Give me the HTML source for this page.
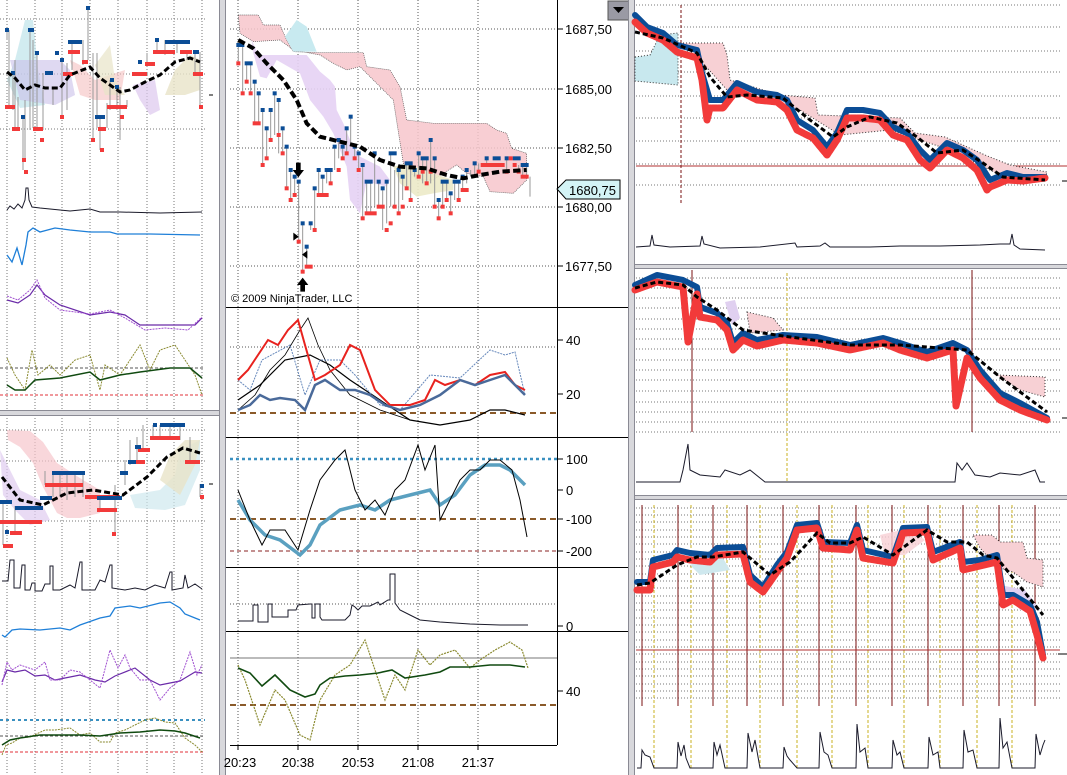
<!DOCTYPE html>
<html><head><meta charset="utf-8"><style>
html,body{margin:0;padding:0;background:#fff;}
svg{display:block;font-family:"Liberation Sans",sans-serif;}
</style></head><body>
<svg width="1067" height="775" viewBox="0 0 1067 775" xmlns="http://www.w3.org/2000/svg">
<rect width="1067" height="775" fill="#fff"/>

<!-- ================= LEFT TOP ================= -->
<g stroke="#777" stroke-width="1" stroke-dasharray="1,2" fill="none">
<path d="M7 0V410M35 0V410M62 0V410M90 0V410M118 0V410M147 0V410M174 0V410M202 0V410"/>
<path d="M0 19H205M0 74H205M0 129H205"/>
<path d="M7 415V775M35 415V775M62 415V775M90 415V775M118 415V775M147 415V775M174 415V775M202 415V775"/>
<path d="M0 430H205M0 461H205M0 521H205"/>
</g>
<polygon points="15,60 25,20 33,20 38,70 45,105 20,108 7,80" fill="#bfe4ea" opacity="0.7"/>
<polygon points="10,60 60,60 70,70 75,95 55,105 20,100" fill="#c9c0ea" opacity="0.6"/>
<polygon points="70,60 80,65 95,80 125,70 120,100 95,100 80,95" fill="#f5c0c0" opacity="0.6"/>
<polygon points="95,65 110,45 115,80 125,95 105,95" fill="#e8e4c8" opacity="0.7"/>
<polygon points="175,70 190,55 200,60 200,90 185,95 165,95" fill="#e8e4c8" opacity="0.8"/>
<polygon points="133,85 155,80 160,110 150,115 140,100" fill="#ddc8ee" opacity="0.7"/>
<g stroke="#999" fill="none">
<path d="M7 30V40M9 30V105M13 73V110M15 60V127M18 97V130M23 117V170M25 100V160M30 30V130M33 40V128M37 53V128M43 73V130M53 87V105M62 60V115M67 63V110M72 40V70M83 40V65M88 8V60M93 53V140M97 53V128M100 117V150M107 103V128M110 80V110M117 87V110M120 87V140M127 100V107M133 73V75M147 53V63M157 40V52M165 40V55M177 40V53M187 50V60M195 50V75M200 52V107"/>
</g>
<g fill="#0b4d96">
<rect x="5" y="28" width="4" height="4"/><rect x="11" y="71" width="4" height="4"/><rect x="21" y="115" width="4" height="4"/><rect x="28" y="28" width="6" height="4"/><rect x="35" y="51" width="4" height="4"/><rect x="45" y="71" width="8" height="4"/><rect x="55" y="51" width="4" height="4"/><rect x="68" y="40" width="14" height="4"/><rect x="86" y="6" width="4" height="4"/><rect x="95" y="115" width="10" height="4"/><rect x="115" y="85" width="4" height="4"/><rect x="138" y="60" width="4" height="4"/><rect x="155" y="38" width="4" height="4"/><rect x="165" y="40" width="25" height="4"/><rect x="193" y="50" width="6" height="4"/><rect x="60" y="58" width="4" height="4"/><rect x="110" y="78" width="4" height="4"/>
</g>
<g fill="#f23a3a">
<rect x="5" y="105" width="10" height="4"/><rect x="12" y="127" width="8" height="4"/><rect x="22" y="158" width="4" height="4"/><rect x="24" y="170" width="4" height="4"/><rect x="33" y="127" width="10" height="4"/><rect x="40" y="138" width="4" height="4"/><rect x="60" y="115" width="4" height="4"/><rect x="68" y="50" width="12" height="4"/><rect x="63" y="72" width="10" height="4"/><rect x="82" y="60" width="6" height="4"/><rect x="98" y="127" width="8" height="4"/><rect x="107" y="105" width="20" height="4"/><rect x="120" y="115" width="4" height="4"/><rect x="132" y="72" width="15" height="4"/><rect x="145" y="62" width="10" height="4"/><rect x="153" y="50" width="22" height="4"/><rect x="180" y="50" width="12" height="4"/><rect x="193" y="72" width="10" height="4"/><rect x="199" y="105" width="4" height="4"/><rect x="91" y="138" width="4" height="4"/><rect x="100" y="148" width="4" height="4"/>
</g>
<polyline points="7,72 15,78 25,90 35,85 45,88 60,88 70,75 90,67 100,78 120,92 130,90 145,82 160,75 175,62 190,58 200,62" fill="none" stroke="#000" stroke-width="3" stroke-dasharray="6,3"/>
<path d="M209 95H213" stroke="#000"/>
<polyline points="7,210 10,206 14,209 18,204 22,208 25,200 26,188 28,188 29,200 32,207 40,208 50,209 70,211 90,209 100,212 120,212 160,213 202,212" fill="none" stroke="#1a1a2a" stroke-width="1"/>
<polyline points="7,255 12,262 17,248 22,265 26,245 28,232 33,228 40,232 55,228 70,230 90,232 110,232 117,234 150,234 200,235" fill="none" stroke="#1e7fd8" stroke-width="1.3"/>
<polyline points="7,300 18,303 30,295 37,285 45,295 60,305 90,315 110,312 125,315 140,325 170,325 195,325 202,318" fill="none" stroke="#6a2aa8" stroke-width="1.2"/>
<polyline points="7,296 18,300 30,290 37,280 45,298 60,310 90,314 110,310 125,318 145,330 165,328 188,330 202,317" fill="none" stroke="#a050d0" stroke-width="1" stroke-dasharray="2,1"/>
<path d="M0 368H205" stroke="#555" stroke-dasharray="3,2"/>
<path d="M0 395H205" stroke="#e0303a" stroke-dasharray="3,2"/>
<polyline points="7,358 15,375 25,390 32,350 38,375 50,365 60,375 75,360 90,355 100,390 105,365 120,375 140,345 150,370 160,350 175,345 185,360 195,375 202,395" fill="none" stroke="#8a8a30" stroke-width="1" stroke-dasharray="2,1"/>
<polyline points="7,385 15,390 25,390 35,380 60,378 90,372 100,380 120,375 140,372 170,368 190,368 202,378" fill="none" stroke="#104a10" stroke-width="1.5"/>

<!-- ================= LEFT BOTTOM ================= -->
<polygon points="7,430 30,431 43,442 57,463 83,480 100,490 100,513 80,518 67,518 57,513 43,487 33,463 20,447 8,440" fill="#f7c6cc" opacity="0.7"/>
<polygon points="0,450 10,470 20,490 40,500 50,520 30,525 15,510 3,495" fill="#e0ccf0" opacity="0.7"/>
<polygon points="130,495 160,490 175,475 180,450 200,440 200,470 185,505 165,510 135,508" fill="#cfe8ee" opacity="0.7"/>
<polygon points="160,480 170,455 185,440 200,440 195,465 180,495" fill="#e8e4c8" opacity="0.8"/>
<g stroke="#999" fill="none">
<path d="M3 500V545M15 506V535M45 471V485M53 471V497M60 471V497M67 471V500M75 471V497M83 471V497M100 496V512M115 485V535M125 460V485M130 440V465M137 437V460M143 425V450M153 425V440M160 425V440M170 425V440M180 425V440M190 437V462M200 484V497"/>
</g>
<g fill="#f23a3a">
<rect x="0" y="520" width="42" height="4"/><rect x="3" y="544" width="10" height="4"/><rect x="10" y="531" width="12" height="4"/><rect x="45" y="483" width="38" height="4"/><rect x="85" y="495" width="35" height="4"/><rect x="97" y="508" width="20" height="4"/><rect x="130" y="460" width="15" height="4"/><rect x="150" y="436" width="30" height="4"/><rect x="138" y="448" width="12" height="4"/><rect x="185" y="460" width="15" height="4"/><rect x="112" y="532" width="4" height="4"/><rect x="200" y="495" width="4" height="4"/>
</g>
<g fill="#0b4d96">
<rect x="0" y="500" width="12" height="4"/><rect x="15" y="506" width="28" height="4"/><rect x="40" y="496" width="12" height="4"/><rect x="52" y="471" width="33" height="4"/><rect x="97" y="496" width="25" height="4"/><rect x="120" y="471" width="8" height="4"/><rect x="128" y="460" width="8" height="4"/><rect x="135" y="445" width="6" height="4"/><rect x="153" y="423" width="4" height="4"/><rect x="160" y="423" width="25" height="4"/><rect x="200" y="484" width="4" height="4"/><rect x="5" y="530" width="4" height="4"/>
</g>
<polyline points="2,477 20,500 43,505 67,493 93,490 123,495 147,477 167,457 183,448 200,453" fill="none" stroke="#000" stroke-width="3" stroke-dasharray="6,3"/>
<path d="M209 484H213" stroke="#000"/>
<polyline points="2,581 8,581 10,560 14,560 14,588 20,588 22,565 25,565 25,590 30,590 32,583 35,583 35,591 42,591 45,584 50,584 50,566 53,566 53,590 60,590 70,585 75,588 80,562 82,562 82,590 95,590 100,580 105,582 110,565 112,565 112,588 125,590 135,588 145,590 155,585 165,588 170,572 172,572 172,590 183,588 185,575 188,588 195,584 202,589" fill="none" stroke="#1a1a2a"/>
<polyline points="2,635 5,637 12,630 20,629 40,630 60,628 70,630 80,625 100,618 110,616 115,608 130,606 140,608 160,603 170,602 180,608 185,614 200,620" fill="none" stroke="#1e7fd8" stroke-width="1.3"/>
<polyline points="2,682 7,670 15,672 25,670 35,676 45,675 55,680 65,678 80,675 95,680 105,682 115,676 130,670 135,668 150,680 160,685 170,683 180,681 185,678 195,672 202,673" fill="none" stroke="#6a2aa8" stroke-width="1.2"/>
<polyline points="2,685 7,662 12,670 20,665 35,670 45,662 50,680 60,680 70,670 80,672 90,680 100,688 110,650 118,668 125,655 130,668 140,680 150,680 160,700 170,688 180,680 190,652 197,675 202,665" fill="none" stroke="#a050d0" stroke-width="1" stroke-dasharray="2,1"/>
<path d="M0 720H205" stroke="#3a90c0" stroke-width="2" stroke-dasharray="3,3"/>
<path d="M0 736H205" stroke="#555" stroke-dasharray="3,2"/>
<path d="M0 752H205" stroke="#e0303a" stroke-dasharray="3,2"/>
<polyline points="2,755 6,745 12,743 20,738 30,737 45,730 55,730 70,728 80,735 90,733 100,742 110,742 115,733 125,730 135,725 145,720 155,718 165,722 175,723 185,738 195,745 202,752" fill="none" stroke="#8a8a30" stroke-width="1" stroke-dasharray="2,1"/>
<polyline points="2,745 10,740 20,738 40,735 60,735 80,735 100,736 120,733 140,732 160,730 175,731 185,733 200,738" fill="none" stroke="#104a10" stroke-width="1.5"/>

<rect x="219" y="0" width="7" height="775" fill="#d8d8dc"/>
<path d="M219.5 0V775M225.5 0V775" stroke="#8a8a94"/>
<rect x="0" y="410" width="219" height="6" fill="#d8d8dc"/>
<path d="M0 410.5H219M0 415.5H219" stroke="#8a8a94"/>

<!-- ================= MIDDLE ================= -->
<g stroke="#555" stroke-dasharray="1,2" fill="none">
<path d="M238 0V745M298 0V745M358 0V745M418 0V745M478 0V745"/>
<path d="M230 29H557M230 89H557M230 148H557M230 207H557M230 266H557"/>
<path d="M230 347H557M230 604H557"/>
</g>
<g transform="translate(200,0) scale(0.33333)">
<polygon points="115,45 175,45 190,75 240,75 260,120 280,155 355,158 490,158 500,200 570,210 600,260 620,360 700,370 860,370 890,390 920,400 935,445 980,460 980,540 940,580 870,575 850,530 800,520 770,495 730,520 700,540 650,540 610,490 580,300 500,220 480,200 440,210 400,190 360,165 280,150 240,120 160,125 120,100" fill="#f7c6cc" opacity="0.85" stroke="#333" stroke-width="2" stroke-dasharray="3,3"/>
<polygon points="255,110 290,60 320,80 350,155 280,155" fill="#c8eaf0"/>
<polygon points="155,120 175,165 320,165 360,215 390,240 405,260 410,330 430,370 450,420 480,470 540,500 570,540 560,560 500,545 480,640 450,600 440,500 420,450 400,400 370,350 330,300 300,220 230,180 200,235 180,230 160,160" fill="#e6d2f4" opacity="0.9"/>
<polygon points="580,500 620,490 700,520 760,540 760,570 700,580 650,590 600,550" fill="#eceac8" opacity="0.9"/>
<g stroke="#999" stroke-width="3" fill="none">
<path d="M115 135V190M128 135V280M140 190V245M152 190V280M164 245V370M176 280V370M188 330V495M200 385V475M212 330V420M224 280V405M236 300V460M248 385V460M260 440V565M272 510V600M284 530V585M296 545V725M308 670V815M320 740V800M332 670V690M344 565V690M356 510V585M368 530V585M380 510V550M392 510V550M404 440V510M416 420V475M428 440V475M440 385V460M452 350V440M464 440V475M476 460V510M488 495V655M500 545V640M512 545V640M524 460V620M536 545V620M548 565V690M560 545V670M572 460V620M584 510V620M596 510V640M608 530V600M620 490V565M632 490V600M644 510V530M656 460V530M668 475V550M680 475V550M692 420V550M704 475V620M716 600V655M728 545V620M740 545V600M752 580V640M764 545V600M776 545V600M788 530V570M800 510V550M812 510V530M824 490V530M836 490V510M860 475V495M920 475V510M956 495V510M968 495V530M980 495V530M990 530V590"/>
</g>
<g fill="#0b4d96">
<rect x="109" y="129" width="24" height="12"/><rect x="134" y="184" width="24" height="12"/><rect x="158" y="239" width="12" height="12"/><rect x="170" y="274" width="12" height="12"/><rect x="182" y="324" width="12" height="12"/><rect x="194" y="379" width="12" height="12"/><rect x="206" y="324" width="12" height="12"/><rect x="218" y="274" width="12" height="12"/><rect x="230" y="294" width="12" height="12"/><rect x="242" y="379" width="12" height="12"/><rect x="254" y="434" width="12" height="12"/><rect x="266" y="504" width="12" height="12"/><rect x="278" y="524" width="12" height="12"/><rect x="290" y="539" width="12" height="12"/><rect x="302" y="664" width="12" height="12"/><rect x="314" y="734" width="12" height="12"/><rect x="326" y="664" width="12" height="12"/><rect x="338" y="559" width="12" height="12"/><rect x="350" y="504" width="12" height="12"/><rect x="362" y="524" width="12" height="12"/><rect x="374" y="504" width="24" height="12"/><rect x="398" y="434" width="12" height="12"/><rect x="410" y="414" width="12" height="12"/><rect x="422" y="434" width="12" height="12"/><rect x="434" y="379" width="12" height="12"/><rect x="446" y="344" width="12" height="12"/><rect x="458" y="434" width="12" height="12"/><rect x="470" y="454" width="12" height="12"/><rect x="482" y="489" width="12" height="12"/><rect x="494" y="539" width="24" height="12"/><rect x="518" y="454" width="12" height="12"/><rect x="530" y="539" width="12" height="12"/><rect x="542" y="559" width="12" height="12"/><rect x="554" y="539" width="12" height="12"/><rect x="566" y="454" width="24" height="12"/><rect x="590" y="504" width="12" height="12"/><rect x="602" y="524" width="12" height="12"/><rect x="614" y="484" width="24" height="12"/><rect x="638" y="504" width="12" height="12"/><rect x="650" y="454" width="12" height="12"/><rect x="662" y="469" width="24" height="12"/><rect x="686" y="414" width="12" height="12"/><rect x="698" y="469" width="12" height="12"/><rect x="710" y="594" width="12" height="12"/><rect x="722" y="539" width="24" height="12"/><rect x="746" y="574" width="12" height="12"/><rect x="758" y="539" width="24" height="12"/><rect x="782" y="524" width="12" height="12"/><rect x="794" y="504" width="12" height="12"/><rect x="818" y="484" width="12" height="12"/><rect x="854" y="469" width="12" height="12"/><rect x="878" y="469" width="24" height="12"/><rect x="914" y="469" width="12" height="12"/><rect x="938" y="469" width="24" height="12"/><rect x="962" y="489" width="24" height="12"/>
</g>
<g fill="#f23a3a">
<rect x="109" y="184" width="12" height="12"/><rect x="122" y="274" width="12" height="12"/><rect x="134" y="239" width="12" height="12"/><rect x="146" y="274" width="12" height="12"/><rect x="158" y="364" width="24" height="12"/><rect x="182" y="489" width="12" height="12"/><rect x="194" y="469" width="12" height="12"/><rect x="206" y="414" width="12" height="12"/><rect x="230" y="399" width="12" height="12"/><rect x="242" y="454" width="12" height="12"/><rect x="254" y="559" width="12" height="12"/><rect x="266" y="594" width="12" height="12"/><rect x="278" y="579" width="12" height="12"/><rect x="290" y="719" width="12" height="12"/><rect x="302" y="809" width="12" height="12"/><rect x="314" y="794" width="24" height="12"/><rect x="338" y="684" width="12" height="12"/><rect x="350" y="579" width="36" height="12"/><rect x="386" y="544" width="12" height="12"/><rect x="410" y="504" width="12" height="12"/><rect x="422" y="469" width="12" height="12"/><rect x="434" y="454" width="12" height="12"/><rect x="458" y="469" width="12" height="12"/><rect x="470" y="504" width="12" height="12"/><rect x="482" y="649" width="12" height="12"/><rect x="494" y="634" width="36" height="12"/><rect x="530" y="614" width="24" height="12"/><rect x="554" y="684" width="12" height="12"/><rect x="566" y="664" width="12" height="12"/><rect x="578" y="614" width="12" height="12"/><rect x="590" y="634" width="12" height="12"/><rect x="602" y="614" width="12" height="12"/><rect x="614" y="559" width="12" height="12"/><rect x="626" y="594" width="12" height="12"/><rect x="650" y="524" width="12" height="12"/><rect x="662" y="509" width="12" height="12"/><rect x="674" y="544" width="12" height="12"/><rect x="686" y="509" width="12" height="12"/><rect x="698" y="614" width="12" height="12"/><rect x="710" y="649" width="12" height="12"/><rect x="722" y="614" width="12" height="12"/><rect x="734" y="594" width="12" height="12"/><rect x="746" y="634" width="12" height="12"/><rect x="770" y="594" width="12" height="12"/><rect x="782" y="564" width="24" height="12"/><rect x="830" y="509" width="12" height="12"/><rect x="842" y="489" width="72" height="12"/><rect x="914" y="509" width="12" height="12"/><rect x="926" y="469" width="12" height="12"/><rect x="938" y="489" width="12" height="12"/><rect x="950" y="509" width="12" height="12"/><rect x="962" y="524" width="24" height="12"/>
</g>
<polyline points="115,120 160,145 200,190 250,240 290,300 320,370 360,410 420,425 480,440 540,480 600,500 680,505 740,525 790,535 840,525 900,515 980,510" fill="none" stroke="#000" stroke-width="12" stroke-dasharray="22,10"/>
<path d="M288 488H302V510H312L295 532L278 510H288Z" fill="#000"/>
<path d="M301 875H315V855H325L308 833L291 855H301Z" fill="#000"/>
<path d="M280 698L296 710L280 722Z M322 752L306 764L322 776Z" fill="#000"/>
</g>
<text x="231" y="302" font-size="11" fill="#000">© 2009 NinjaTrader, LLC</text>

<path d="M557.5 0V745" stroke="#000"/>
<path d="M226 307.5H628M226 437.5H628M226 567.5H628M226 631.5H628" stroke="#000"/>
<path d="M230 745.5H557" stroke="#000"/>
<g stroke="#000"><path d="M557 29H563M557 89H563M557 148H563M557 207H563M557 266H563M557 340H563M557 394H563M557 459H563M557 490H563M557 519H563M557 551H563M557 626H563M557 691H563"/></g>
<g font-size="13" fill="#000">
<text x="565" y="34">1687,50</text><text x="565" y="94">1685,00</text><text x="565" y="153">1682,50</text><text x="565" y="212">1680,00</text><text x="565" y="271">1677,50</text>
<text x="566" y="345">40</text><text x="566" y="399">20</text>
<text x="566" y="464">100</text><text x="566" y="495">0</text><text x="566" y="524">-100</text><text x="566" y="556">-200</text>
<text x="566" y="631">0</text><text x="566" y="696">40</text>
</g>
<path d="M557 189L566 180H620V199H566Z" fill="#d4f4f6" stroke="#000"/>
<text x="569" y="195" font-size="13">1680,75</text>
<rect x="608" y="1" width="21" height="19" fill="#9a9aa4" stroke="#555"/>
<path d="M613 7H624L618.5 13Z" fill="#000"/>

<path d="M230 413H557" stroke="#8a5a2a" stroke-width="2" stroke-dasharray="6,4"/>
<polyline points="238,410 255,395 270,370 285,355 300,330 308,318 318,345 330,370 350,395 380,410 410,420" fill="none" stroke="#000" stroke-width="0.8"/>
<polyline points="238,400 260,385 285,360 310,355 330,365 350,380 380,400 410,420 440,425 470,420 490,410 505,410 525,415" fill="none" stroke="#000" stroke-width="1.2"/>
<polyline points="238,380 250,390 262,360 290,345 305,395 320,360 340,360 355,375 380,405 400,410 430,375 460,378 490,350 505,355 515,352 525,395" fill="none" stroke="#6688bb" stroke-width="1" stroke-dasharray="2,1"/>
<polyline points="238,380 248,370 258,355 268,340 278,345 288,330 298,320 305,345 315,380 325,375 340,365 350,345 360,350 375,390 390,405 410,405 425,400 435,380 445,385 460,380 475,385 490,375 505,372 515,385 525,390" fill="none" stroke="#e8221e" stroke-width="2"/>
<polyline points="238,410 250,405 260,395 270,400 280,398 295,400 305,410 315,385 325,380 340,390 355,390 370,395 385,405 400,410 420,405 440,395 460,380 475,385 490,380 505,375 515,385 525,395" fill="none" stroke="#4a6a9a" stroke-width="2.5"/>

<path d="M230 459H557" stroke="#3a90c0" stroke-width="2.5" stroke-dasharray="3,3"/>
<path d="M230 519H557" stroke="#8a5a2a" stroke-width="2" stroke-dasharray="6,4"/>
<path d="M230 551H557" stroke="#8a2020" stroke-width="1" stroke-dasharray="4,3"/>
<polyline points="238,500 250,520 265,535 280,540 300,555 310,545 320,525 340,510 360,505 375,510 390,500 410,495 430,490 440,505 455,495 470,475 485,465 500,465 510,470 525,485" fill="none" stroke="#5aa0c0" stroke-width="3.5"/>
<polyline points="238,490 250,520 262,545 270,530 285,530 298,550 310,510 320,480 335,460 345,450 355,490 365,510 375,500 385,515 395,490 405,480 418,445 425,470 435,445 440,520 450,500 460,480 470,470 480,470 490,460 500,460 512,470 520,500 527,537" fill="none" stroke="#000" stroke-width="1"/>

<polyline points="238,621 250,621 253,621 253,605 258,605 258,622 265,622 268,622 268,604 272,604 272,617 285,617 288,617 288,610 296,610 298,605 310,604 312,604 312,618 315,618 315,604 318,604 320,604 320,617 322,620 345,620 350,615 352,605 355,607 358,610 362,606 370,606 378,602 380,605 388,600 390,600 390,574 395,574 395,603 400,610 410,615 420,620 440,622 470,624 500,625 528,625" fill="none" stroke="#1a1a2a"/>

<path d="M230 658H557" stroke="#777"/>
<path d="M230 705H557" stroke="#8a5a2a" stroke-width="2" stroke-dasharray="6,4"/>
<polyline points="238,665 245,680 260,725 275,690 285,700 300,735 310,740 320,700 335,675 350,665 365,640 375,670 385,700 395,675 405,690 418,650 430,665 440,655 455,650 470,668 480,660 495,650 510,642 522,650 528,668" fill="none" stroke="#8a8a30" stroke-width="1.2" stroke-dasharray="2,1"/>
<polyline points="238,668 250,673 262,686 275,675 290,690 305,697 315,694 320,685 330,678 345,676 360,675 378,673 392,670 405,678 425,675 440,672 450,667 470,667 490,665 510,665 525,667" fill="none" stroke="#104a10" stroke-width="1.6"/>

<g font-size="13" fill="#000" text-anchor="middle">
<text x="240" y="767">20:23</text><text x="298" y="767">20:38</text><text x="358" y="767">20:53</text><text x="418" y="767">21:08</text><text x="478" y="767">21:37</text>
</g>
<path d="M238 745V750M298 745V750M358 745V750M418 745V750M478 745V750" stroke="#000"/>

<rect x="628" y="0" width="7" height="775" fill="#d8d8dc"/>
<path d="M628.5 0V775M634.5 0V775" stroke="#8a8a94"/>

<!-- ================= RIGHT TOP ================= -->
<g stroke="#777" stroke-dasharray="1,2"><path d="M636 5H1062M636 27H1062M636 51H1062M636 72H1062M636 96H1062M636 118H1062M636 141H1062M636 164H1062M636 185H1062"/></g>
<path d="M636 166H1067" stroke="#b03030"/>
<path d="M681 5V203" stroke="#7a1010" stroke-dasharray="3,2"/>
<polygon points="635,57 650,55 660,35 678,33 678,85 635,81" fill="#c8e8ee" stroke="#333" stroke-dasharray="1,2"/>
<polygon points="680,43 723,43 727,55 730,80 780,95 815,98 818,115 900,118 915,133 945,137 985,155 1010,165 1047,172 1045,180 1000,175 950,150 890,130 840,135 800,110 760,95 727,90 700,60" fill="#f7d0d4" stroke="#333" stroke-dasharray="1,2"/>
<g fill="none" stroke-linejoin="round" stroke-linecap="round">
<polyline points="635,15 647,27 663,33 677,45 697,50 702,73 710,100 723,100 737,83 757,92 777,95 787,100 797,120 813,130 827,147 837,133 847,110 863,110 880,113 893,127 907,133 920,150 930,160 947,143 963,150 977,160 990,180 1007,173 1023,177 1045,177" stroke="#0b4d96" stroke-width="6"/>
<polyline points="635,22 647,33 663,40 677,52 697,58 702,80 707,120 710,108 723,108 737,90 757,100 777,102 787,110 797,130 813,138 827,155 837,140 847,118 863,118 880,120 893,135 907,140 920,160 930,168 947,150 963,158 977,170 987,190 990,187 1007,180 1023,181 1045,178" stroke="#f23a3a" stroke-width="7" stroke-dasharray="5,1"/>
</g>
<polyline points="635,32 663,38 697,53 710,77 727,97 747,95 783,98 810,120 833,137 847,127 870,117 897,123 917,137 937,153 963,150 983,163 1003,177 1045,180" fill="none" stroke="#000" stroke-width="3" stroke-dasharray="5,3"/>
<path d="M1062 181H1067" stroke="#000"/>
<polyline points="636,247 650,246 652,235 654,245 670,247 700,246 702,236 704,244 720,248 760,247 795,243 797,247 820,246 825,243 830,247 870,247 900,246 940,246 980,245 1000,244 1010,244 1012,234 1014,245 1020,249 1045,250" fill="none" stroke="#1a1a2a"/>
<rect x="635" y="264" width="432" height="5" fill="#d8d8dc"/>
<path d="M635 264.5H1067M635 268.5H1067" stroke="#8a8a94"/>

<!-- ================= RIGHT MIDDLE ================= -->
<g stroke="#777" stroke-dasharray="1,2"><path d="M636 278H1060M636 288H1060M636 298H1060M636 308H1060M636 319H1060M636 329H1060M636 339H1060M636 349H1060M636 360H1060M636 370H1060M636 380H1060M636 391H1060M636 402H1060M636 412H1060M636 422H1060M636 432H1060"/></g>
<path d="M692 270V432M972 270V432" stroke="#7a1010"/>
<path d="M787 273V482" stroke="#c8b020" stroke-dasharray="3,2"/>
<polygon points="747,312 773,318 783,330 750,333" fill="#f7d0d4" stroke="#333" stroke-dasharray="1,2"/>
<polygon points="997,375 1045,377 1045,397 1020,390" fill="#f7d0d4" stroke="#333" stroke-dasharray="1,2"/>
<polygon points="725,302 735,300 740,318 732,325" fill="#e0d0f0"/>
<g fill="none" stroke-linejoin="round" stroke-linecap="round">
<polyline points="635,285 657,275 683,280 697,287 700,307 717,313 727,323 733,343 743,333 757,340 783,335 817,337 850,345 883,338 900,343 927,352 953,343 967,350 980,370 1000,393 1020,403 1047,418" stroke="#0b4d96" stroke-width="6"/>
<polyline points="635,290 657,282 683,287 688,342 697,294 700,317 717,320 727,330 733,350 743,340 757,346 783,340 817,343 850,350 883,343 900,350 927,358 953,350 956,406 967,358 980,378 1000,400 1020,410 1047,420" stroke="#f23a3a" stroke-width="7" stroke-dasharray="5,1"/>
</g>
<polyline points="635,288 657,282 683,285 697,297 717,310 743,330 783,336 850,345 900,345 967,350 1000,377 1047,412" fill="none" stroke="#000" stroke-width="3" stroke-dasharray="5,3"/>
<path d="M1062 418H1067" stroke="#000"/>
<polyline points="636,482 680,482 683,470 688,444 690,470 700,475 720,477 725,470 740,475 750,470 760,478 765,482 800,482 900,482 955,482 957,463 962,470 967,463 975,475 990,477 1000,473 1020,475 1035,470 1040,482 1045,482" fill="none" stroke="#1a1a2a"/>
<rect x="635" y="495" width="432" height="5" fill="#d8d8dc"/>
<path d="M635 495.5H1067M635 499.5H1067" stroke="#8a8a94"/>

<!-- ================= RIGHT BOTTOM ================= -->
<g stroke="#777" stroke-dasharray="1,2"><path d="M636 508H1060M636 515H1060M636 522H1060M636 530H1060M636 537H1060M636 544H1060M636 552H1060M636 559H1060M636 566H1060M636 574H1060M636 581H1060M636 588H1060M636 596H1060M636 603H1060M636 610H1060M636 618H1060M636 625H1060M636 632H1060M636 640H1060M636 647H1060M636 654H1060M636 662H1060M636 669H1060M636 676H1060M636 684H1060M636 691H1060M636 698H1060"/></g>
<path d="M642 505V706M678 505V706M713 505V706M747 505V706M783 505V706M819 505V706M856 505V706M892 505V706M928 505V706M963 505V706M999 505V706M1035 505V706" stroke="#7a1010"/>
<path d="M654 505V770M691 505V770M727 505V770M760 505V770M797 505V770M832 505V770M868 505V770M904 505V770M940 505V770M977 505V770M1012 505V770" stroke="#c8b020" stroke-dasharray="3,2"/>
<path d="M636 650H1060" stroke="#b03030"/>
<polygon points="973,535 992,535 1000,542 1023,542 1027,558 1043,560 1043,587 1027,582 1013,572 997,567 980,548" fill="#f7d0d4" stroke="#333" stroke-dasharray="1,2"/>
<polygon points="690,565 720,553 730,570 700,575" fill="#cfe8ee"/>
<polygon points="880,535 910,528 925,540 905,555 885,555" fill="#f7d0d4" opacity="0.8"/>
<polygon points="1000,585 1025,590 1040,610 1020,610" fill="#e0d0f0"/>
<g fill="none" stroke-linejoin="round" stroke-linecap="round">
<polyline points="637,582 650,582 653,560 673,555 677,550 690,553 710,555 717,548 743,547 750,575 763,587 777,565 787,552 797,525 817,523 823,542 850,543 857,525 863,550 893,557 903,528 927,527 933,552 960,542 963,562 980,560 997,555 1003,595 1013,595 1030,605 1037,622 1043,655" stroke="#0b4d96" stroke-width="6"/>
<polyline points="637,590 650,590 653,567 673,562 677,557 690,560 710,562 717,555 743,554 750,582 763,592 777,572 787,558 797,530 817,528 823,548 850,550 857,530 863,558 893,563 903,533 927,532 933,560 960,548 963,570 980,566 997,562 1003,605 1013,600 1030,611 1037,635 1043,658" stroke="#f23a3a" stroke-width="7" stroke-dasharray="5,1"/>
</g>
<polyline points="637,585 650,583 677,565 697,557 713,557 743,552 770,575 790,562 817,533 830,543 850,543 863,537 893,555 927,530 947,542 967,542 983,555 997,558 1043,615" fill="none" stroke="#000" stroke-width="3" stroke-dasharray="5,3"/>
<path d="M1058 654H1067" stroke="#000"/>
<polyline points="637,768 641,768 642,750 645,755 650,757 654,768 677,768 678,742 681,756 684,745 686,758 690,768 713,768 714,742 717,755 720,745 725,768 747,768 748,733 752,752 755,740 760,768 783,768 784,747 787,756 790,760 797,768 819,768 820,732 824,752 828,755 832,768 856,768 857,724 860,752 865,748 868,768 892,768 893,740 897,755 900,752 904,768 928,768 929,737 933,755 938,752 940,768 963,768 964,730 968,752 973,750 977,768 999,768 1000,718 1003,748 1007,742 1012,768 1035,768 1036,734 1040,755 1043,745 1045,740" fill="none" stroke="#1a1a2a"/>
</svg>
</body></html>
